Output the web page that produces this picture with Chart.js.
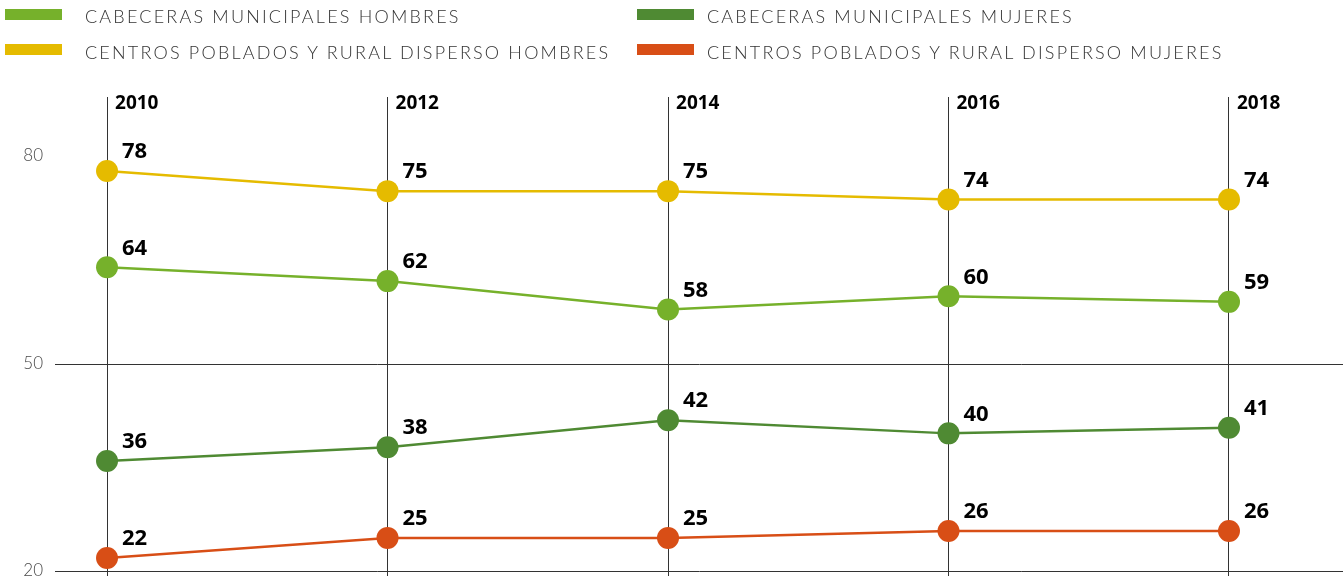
<!DOCTYPE html>
<html><head><meta charset="utf-8">
<script src="https://cdn.jsdelivr.net/npm/chart.js@4.4.0/dist/chart.umd.min.js"></script>
<style>
html,body{margin:0;padding:0;background:#fff;}
#wrap{position:relative;width:1343px;height:576px;overflow:hidden;}
#chart{position:absolute;left:0;top:0;}
.lg{position:absolute;font-family:Lato,sans-serif;font-weight:300;font-size:18px;letter-spacing:2.2px;color:#333;white-space:nowrap;line-height:20px;}
.sw{position:absolute;height:11px;width:57px;}
</style></head><body>
<div id="wrap"><canvas id="chart" width="1355" height="594"></canvas></div>
<script>
const years = ['2010', '2012', '2014', '2016', '2018'];
const seriesNames = ['CABECERAS MUNICIPALES HOMBRES', 'CABECERAS MUNICIPALES MUJERES', 'CENTROS POBLADOS Y RURAL DISPERSO HOMBRES', 'CENTROS POBLADOS Y RURAL DISPERSO MUJERES'];
const seriesColors = ['#76b12b', '#4f8a33', '#e5bb00', '#d84e16'];
const cabHombres = [64.0, 62.0, 57.9, 59.8, 59.0];
const cabMujeres = [36.0, 38.0, 41.9, 40.0, 40.8];
const ruralHombres = [77.9, 75.0, 75.0, 73.8, 73.8];
const ruralMujeres = [22.0, 24.9, 24.9, 25.9, 25.9];
const yTicks = [20, 50, 80];

const seriesValues = [cabHombres, cabMujeres, ruralHombres, ruralMujeres];

// HTML legend (two aligned columns)
const wrap = document.getElementById('wrap');
const legendPos = [
  {sx: 5, tx: 85, sy: 9, ty: 6},
  {sx: 637, tx: 707, sy: 9, ty: 6},
  {sx: 5, tx: 85, sy: 44, ty: 42},
  {sx: 637, tx: 707, sy: 44, ty: 42}
];
seriesNames.forEach((n, i) => {
  const p = legendPos[i];
  const s = document.createElement('div');
  s.className = 'sw'; s.style.left = p.sx + 'px'; s.style.top = p.sy + 'px'; s.style.background = seriesColors[i];
  const t = document.createElement('div');
  t.className = 'lg'; t.style.left = p.tx + 'px'; t.style.top = p.ty + 'px'; t.textContent = n;
  wrap.appendChild(s); wrap.appendChild(t);
});

const labelPlugin = {
  id: 'lbl',
  afterDatasetsDraw(chart) {
    const ctx = chart.ctx;
    ctx.save();
    ctx.fillStyle = '#000';
    ctx.textBaseline = 'middle';
    ctx.textAlign = 'left';
    ctx.font = '700 22px "Open Sans"';
    chart.data.datasets.forEach((ds, di) => {
      chart.getDatasetMeta(di).data.forEach((pt, i) => {
        ctx.fillText(String(Math.round(ds.data[i].y)), pt.x + 15, pt.y - 19);
      });
    });
    const xs = chart.scales.x;
    ctx.font = '700 19px "Open Sans"';
    years.forEach((y, i) => {
      ctx.fillText(y, xs.getPixelForValue(i) + 8, chart.chartArea.top + 7);
    });
    ctx.restore();
  }
};

new Chart(document.getElementById('chart'), {
  type: 'line',
  data: {
    datasets: seriesValues.map((vals, i) => ({
      label: seriesNames[i],
      data: vals.map((v, j) => ({x: j, y: v})),
      borderColor: seriesColors[i],
      backgroundColor: seriesColors[i],
      pointBackgroundColor: seriesColors[i],
      pointBorderWidth: 0,
      pointRadius: 11,
      pointHoverRadius: 11,
      borderWidth: 2.5,
      tension: 0,
      fill: false
    }))
  },
  options: {
    responsive: false,
    devicePixelRatio: 1,
    animation: false,
    events: [],
    layout: {padding: {top: 97, left: 0, right: 0, bottom: 0}},
    plugins: {legend: {display: false}, tooltip: {enabled: false}},
    scales: {
      x: {
        type: 'linear',
        position: 'bottom',
        min: -0.1855,
        max: 4.41,
        afterBuildTicks: (s) => { s.ticks = years.map((y, i) => ({value: i})); },
        border: {display: false},
        grid: {color: '#333', lineWidth: 1, drawTicks: true, tickLength: 5},
        ticks: {display: false}
      },
      y: {
        type: 'linear',
        position: 'left',
        min: 20,
        max: 88.6,
        afterFit: (s) => { s.width = 55; },
        afterBuildTicks: (s) => { s.ticks = yTicks.map(v => ({value: v})); },
        border: {display: false},
        grid: {
          drawTicks: false,
          lineWidth: 1,
          color: (c) => (c.tick && c.tick.value === 80) ? 'rgba(0,0,0,0)' : '#333'
        },
        ticks: {
          padding: 12,
          labelOffset: -1,
          color: '#4a4a4a',
          font: {family: 'Lato', weight: '300', size: 17},
          callback: (v) => String(v)
        }
      }
    }
  },
  plugins: [labelPlugin]
});
</script>
</body></html>
